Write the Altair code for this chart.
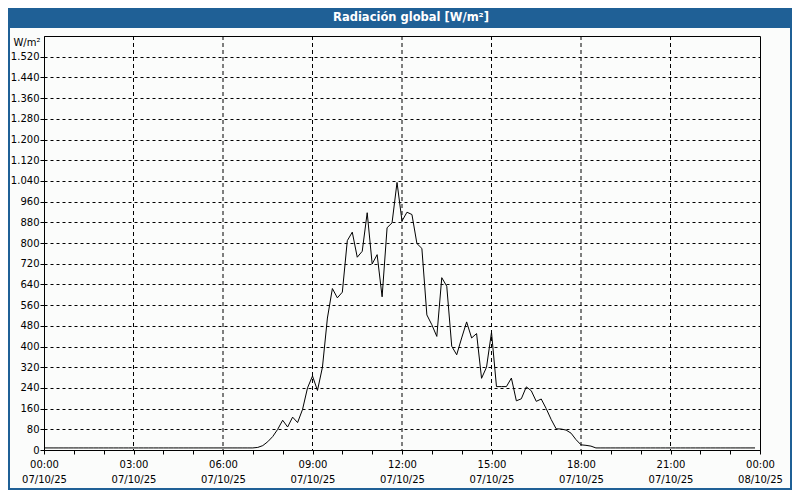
import json
import altair as alt
import pandas as pd

# ---- data: global radiation, 10-minute readings, 07/10/25 00:00 .. 23:50 ----
night_morning = [8, 8, 8, 8, 8, 8, 8, 8, 8, 8,
                 8, 8, 8, 8, 8, 8, 8, 8, 8, 8,
                 8, 8, 8, 8, 8, 8, 8, 8, 8, 8,
                 8, 8, 8, 8, 8, 8, 8, 8, 8, 8,
                 8, 8, 8]                       # 00:00 .. 07:00
daytime = [10, 17, 32, 52, 80, 115, 89, 127, 106, 157,
           240, 286, 230, 320, 510, 624, 588, 610, 809, 842,
           745, 768, 917, 719, 755, 592, 859, 878, 1034, 885,
           919, 910, 798, 779, 522, 484, 439, 666, 633, 401,
           368, 433, 495, 433, 450, 277, 320, 455, 245, 245,
           245, 278, 190, 198, 244, 229, 188, 197, 160, 118,
           82, 81, 77, 65, 40, 20, 18, 15]     # 07:10 .. 18:20
night_evening = [8, 8, 8, 8, 8, 8, 8, 8, 8, 8,
                 8, 8, 8, 8, 8, 8, 8, 8, 8, 8,
                 8, 8, 8, 8, 8, 8, 8, 8, 8, 8,
                 8, 8, 8]                       # 18:30 .. 23:50
values = night_morning + daytime + night_evening
minutes = list(range(0, 1440, 10))

tick_hours = [0, 3, 6, 9, 12, 15, 18, 21, 24]
tick_times = ["00:00", "03:00", "06:00", "09:00", "12:00", "15:00", "18:00", "21:00", "00:00"]
tick_dates = ["07/10/25", "07/10/25", "07/10/25", "07/10/25", "07/10/25",
              "07/10/25", "07/10/25", "07/10/25", "08/10/25"]
grid_hours = [3, 6, 9, 12, 15, 18, 21]
y_ticks = list(range(0, 1521, 80))

title_text = "Radiación global [W/m²]"
unit_text = "W/m²"

# ---- layout ----
W, H = 716, 414
PAD = {"left": 36, "top": 28, "right": 32, "bottom": 40}
TOTAL_W = W + PAD["left"] + PAD["right"]
TOTAL_H = H + PAD["top"] + PAD["bottom"]
BLUE = "#1f6096"
FONT = "DejaVu Sans"

df = pd.DataFrame({"hour": [m / 60 for m in minutes], "value": values})
x_scale = alt.Scale(domain=[0, 24], nice=False, zero=False)
y_scale = alt.Scale(domain=[0, 1600], nice=False)

label_pairs = json.dumps([[t, d] for t, d in zip(tick_times, tick_dates)])
x_label_expr = f"datum.value % 3 == 0 ? {label_pairs}[round(datum.value / 3)] : ''"

x_axis = alt.Axis(
    values=list(range(25)), grid=False, tickSize=4, tickColor="black",
    domainColor="black", labelExpr=x_label_expr, labelOverlap=False,
    labelFlush=False, labelPadding=5, labelLineHeight=15, labelBaseline="top",
    labelFont=FONT, labelFontSize=10, labelColor="black", title=None,
)
y_axis = alt.Axis(
    values=y_ticks, grid=True, gridDash=[3, 3], gridColor="black", gridOpacity=1,
    tickSize=4, tickColor="black", domainColor="black",
    labelExpr="replace(format(datum.value, ','), ',', '.')",
    labelPadding=1, labelFont=FONT, labelFontSize=10, labelColor="black",
    title=unit_text, titleAngle=0, titleAlign="right", titleBaseline="middle",
    titleX=-4, titleY=6, titleFont=FONT, titleFontSize=10,
    titleFontWeight="normal", titleColor="black",
)

line = alt.Chart(df).mark_line(color="black", strokeWidth=1, interpolate="linear").encode(
    x=alt.X("hour:Q", scale=x_scale, axis=x_axis),
    y=alt.Y("value:Q", scale=y_scale, axis=y_axis),
)

vgrid = alt.Chart(pd.DataFrame({"hour": grid_hours})).mark_rule(
    color="black", strokeWidth=1, strokeDash=[4, 3]
).encode(x=alt.X("hour:Q", scale=x_scale, axis=x_axis))

one = pd.DataFrame({"t": [title_text]})
band = alt.Chart(one).mark_rect(fill=BLUE).encode(
    x=alt.value(-PAD["left"]), x2=alt.value(W + PAD["right"]),
    y=alt.value(-PAD["top"]), y2=alt.value(-PAD["top"] + 20),
)
title = alt.Chart(one).mark_text(
    color="white", font=FONT, fontSize=11.5, fontWeight="bold",
    align="center", baseline="middle",
).encode(
    x=alt.value(TOTAL_W / 2 - PAD["left"] + 11), y=alt.value(-PAD["top"] + 10),
    text="t:N",
)
frame = alt.Chart(one).mark_rect(fillOpacity=0, stroke=BLUE, strokeWidth=2).encode(
    x=alt.value(-PAD["left"] + 1), x2=alt.value(W + PAD["right"] - 1),
    y=alt.value(-PAD["top"] + 1), y2=alt.value(H + PAD["bottom"] - 1),
)

chart = alt.layer(line, vgrid, band, title, frame).properties(
    width=W, height=H, padding=PAD,
    autosize=alt.AutoSizeParams(type="none"),
    background="#fbfcfb",
).configure_view(stroke="black", strokeWidth=1)

chart.save("out.html", embed_options={"renderer": "svg", "actions": False})
